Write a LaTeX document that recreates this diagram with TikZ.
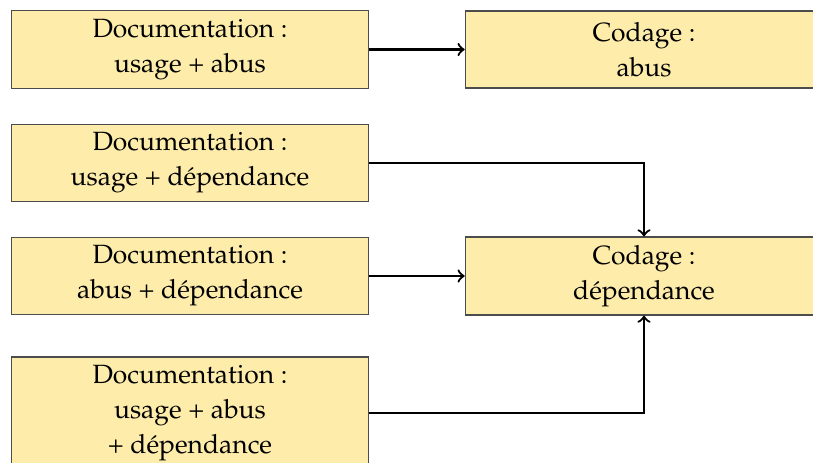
\documentclass[tikz,border=0pt]{standalone}
\usepackage[T1]{fontenc}
\usepackage{mathpazo}
\usepackage{tikz}
\usetikzlibrary{arrows,calc}
\usetikzlibrary{positioning}
\definecolor{boxfill}{RGB}{253,236,170}

\begin{document}
\begin{tikzpicture}[x=0.3636pt,y=-0.3636pt]
\useasboundingbox (0,0) rectangle (813,462);
%%%%%%%%%%%%%%%%%%%%%%%%%%%%%%%%%%%%%%%%%%%%%%%%%%%%%%%%%%%%%%%%%%%%%%%%
%boxes
\tikzstyle{doc}=[rectangle,draw=black!70,fill=boxfill,minimum width=130pt,minimum height=28pt,align=center,inner sep=3pt,font=\fontsize{9.6}{12.7}\selectfont]

%documentation
\node[doc] (docUA) at (190,49.5) {Documentation :\\ usage + abus};
\node[doc] (docUD) at (190,163) {Documentation :\\ usage + d\'ependance};
\node[doc] (docAD) at (190,276) {Documentation :\\ abus + d\'ependance};
\node[doc] (docUAD) at (190,413) {Documentation :\\ usage + abus\\ + d\'ependance};

%codage
\node[doc] (codA) at (644,49.5) {Codage :\\ abus};
\node[doc] (codD) at (644,276) {Codage :\\ d\'ependance};

%arrows doc->cod
\draw[->,thick] (docUA) -- (codA);
\draw[->,thick] (docUD) -| (codD);
\draw[->,thick] (docAD) -- (codD);
\draw[->,thick] (docUAD) -| (codD);

\end{tikzpicture}
\end{document}
